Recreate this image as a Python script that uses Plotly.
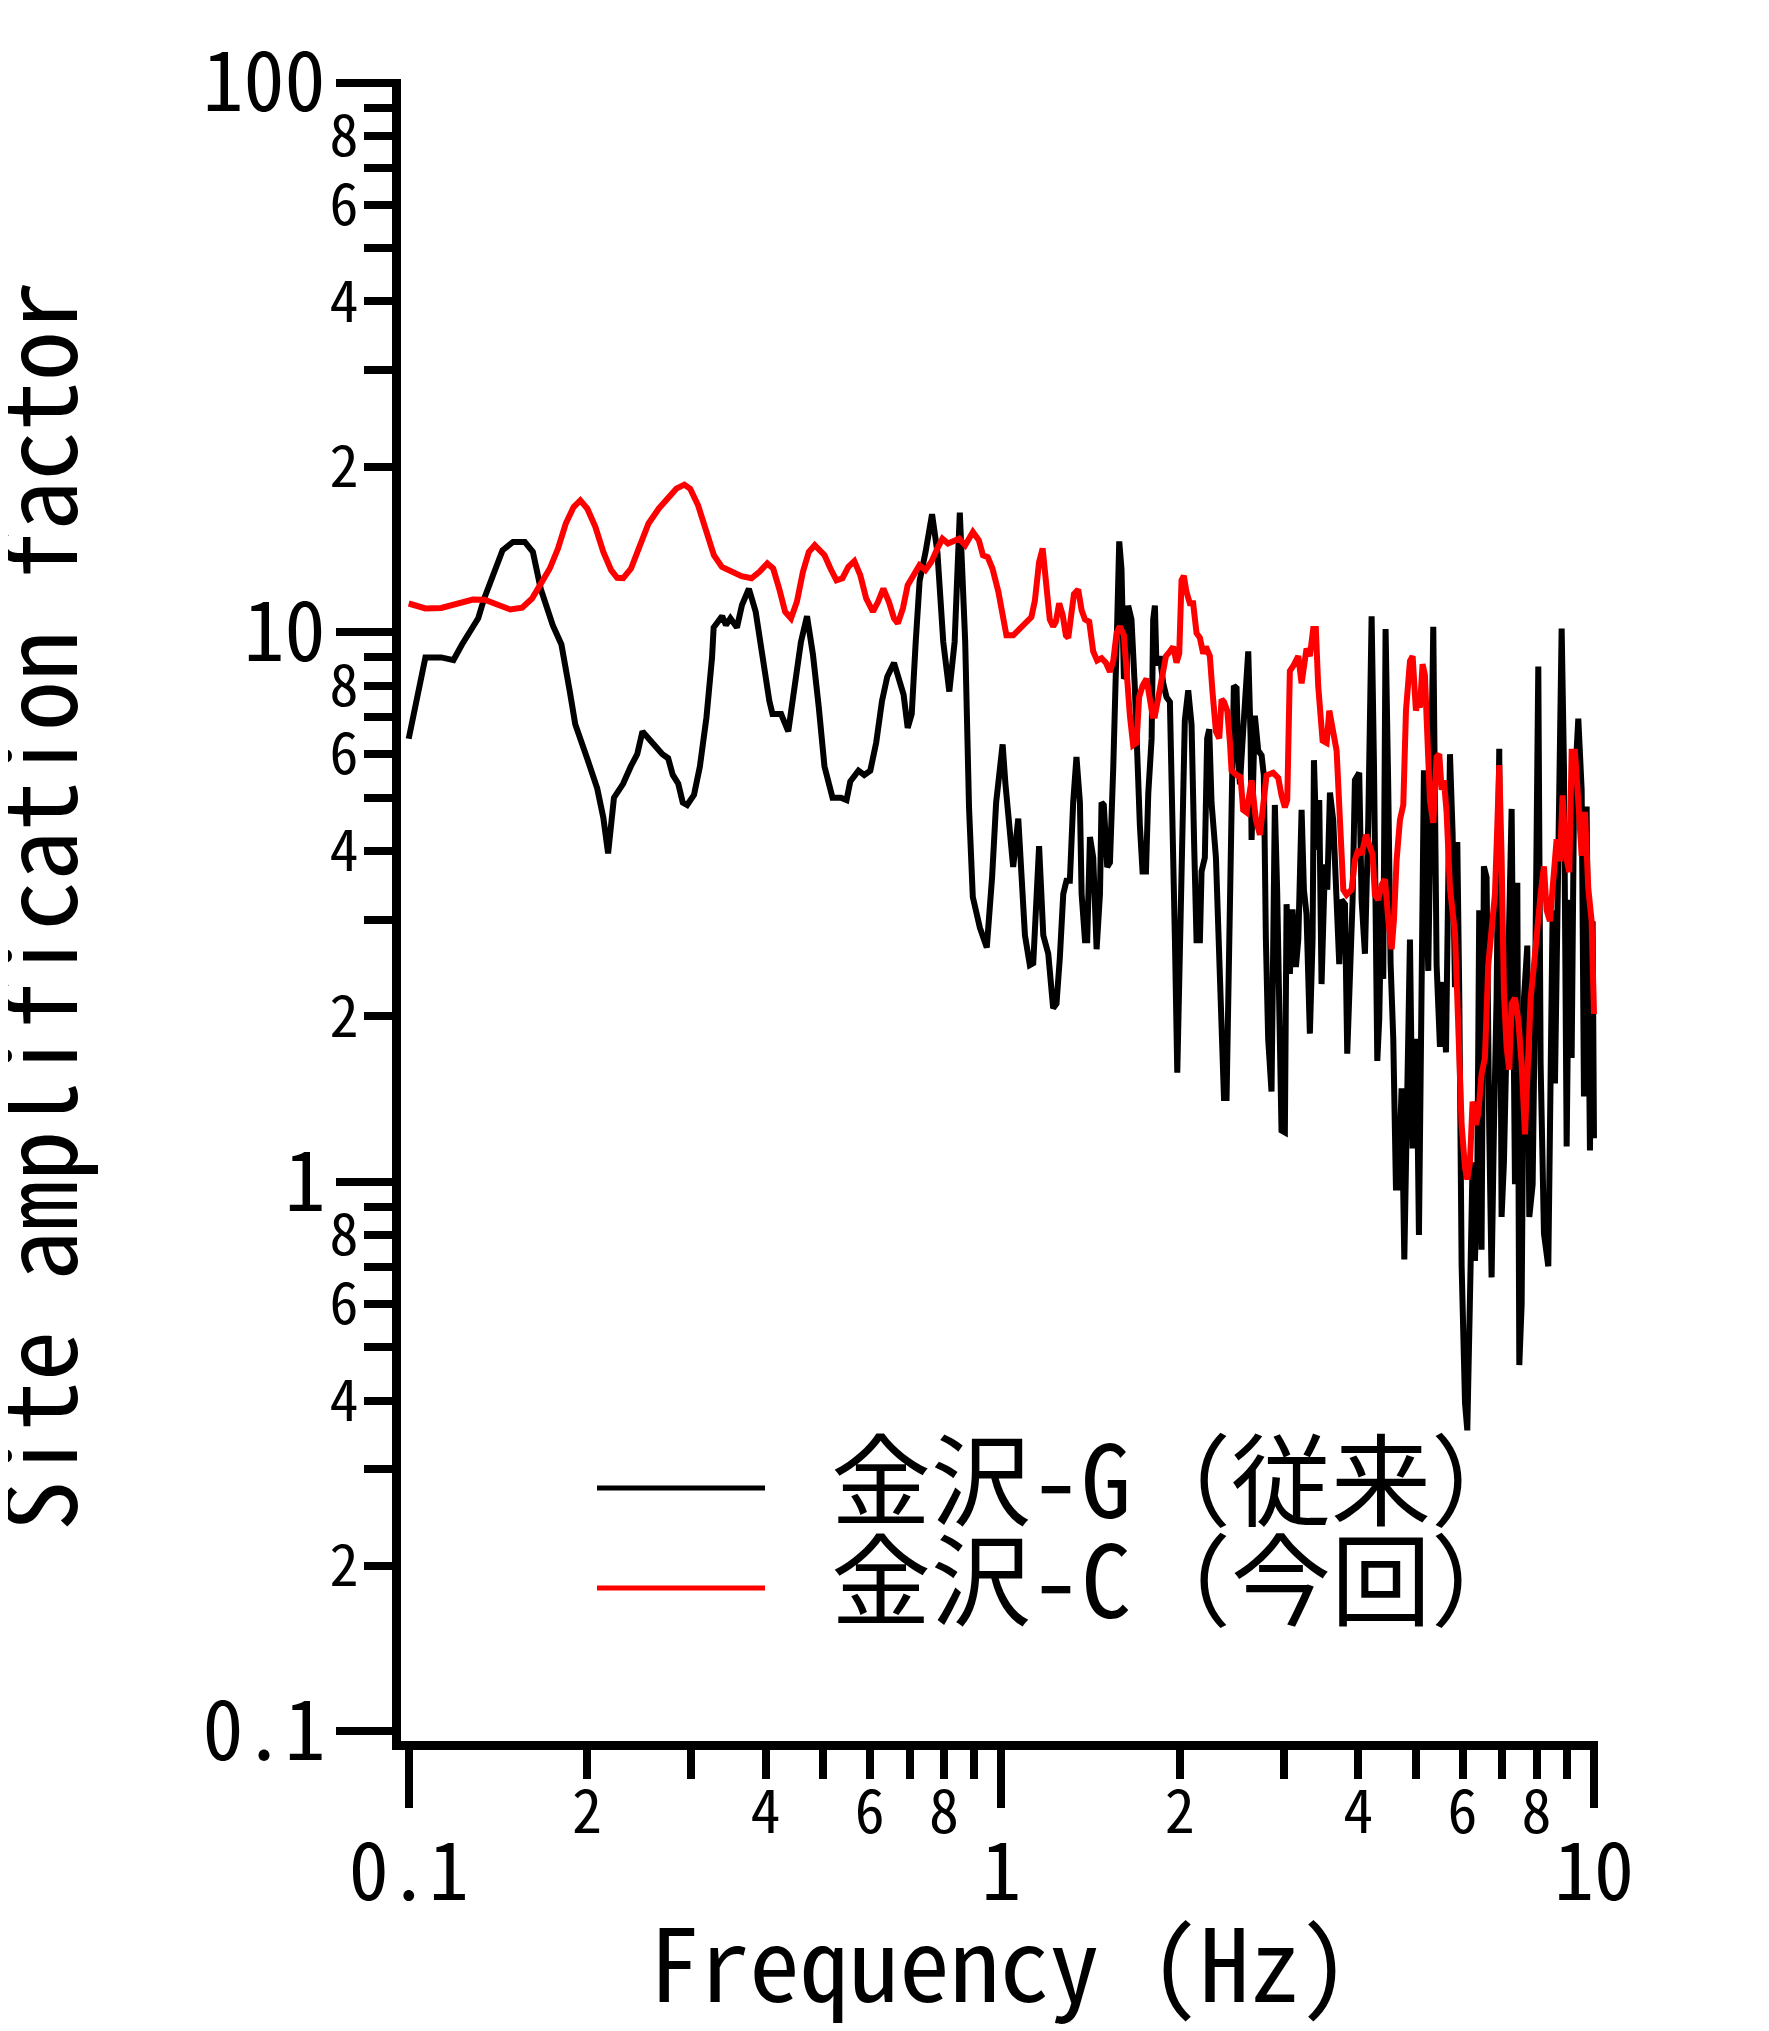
import plotly.graph_objects as go

# ---------------- data ----------------
freq_G = [0.100, 0.1067, 0.1135, 0.119, 0.123, 0.131, 0.134, 0.140, 0.144, 0.150, 0.157, 0.162, 0.167, 0.175,
          0.181, 0.187, 0.191, 0.200, 0.208, 0.213, 0.217, 0.222, 0.230, 0.237, 0.243, 0.248, 0.254, 0.260,
          0.268, 0.274, 0.279, 0.285, 0.290, 0.295, 0.303, 0.310, 0.318, 0.325, 0.327, 0.338, 0.343, 0.349,
          0.358, 0.365, 0.375, 0.385, 0.394, 0.406, 0.411, 0.425, 0.437, 0.448, 0.459, 0.470, 0.481, 0.492,
          0.497, 0.503, 0.519, 0.536, 0.548, 0.556, 0.574, 0.587, 0.601, 0.615, 0.629, 0.642, 0.659, 0.674,
          0.684, 0.695, 0.706, 0.717, 0.728, 0.745, 0.764, 0.780, 0.798, 0.817, 0.834, 0.851, 0.869, 0.882,
          0.895, 0.92, 0.945, 0.965, 0.98, 1.005, 1.016, 1.047, 1.068, 1.096, 1.117, 1.132, 1.158, 1.177,
          1.200, 1.223, 1.239, 1.255, 1.272, 1.288, 1.305, 1.322, 1.339, 1.357, 1.366, 1.384, 1.396, 1.411,
          1.429, 1.448, 1.467, 1.476, 1.489, 1.509, 1.525, 1.545, 1.561, 1.569, 1.581, 1.595, 1.610, 1.627,
          1.637, 1.658, 1.680, 1.691, 1.713, 1.731, 1.754, 1.770, 1.793, 1.804, 1.816, 1.827, 1.851, 1.876,
          1.900, 1.925, 1.945, 1.963, 1.981, 2.001, 2.022, 2.040, 2.067, 2.094, 2.116, 2.135, 2.163, 2.177,
          2.205, 2.225, 2.243, 2.263, 2.302, 2.323, 2.353, 2.375, 2.399, 2.424, 2.446, 2.468, 2.494, 2.510,
          2.527, 2.560, 2.610, 2.634, 2.644, 2.678, 2.713, 2.749, 2.773, 2.795, 2.820, 2.857, 2.875, 2.894,
          2.920, 2.943, 2.970, 3.009, 3.029, 3.068, 3.100, 3.141, 3.170, 3.211, 3.240, 3.273, 3.316, 3.351,
          3.369, 3.404, 3.439, 3.470, 3.516, 3.548, 3.585, 3.631, 3.679, 3.717, 3.751, 3.800, 3.834, 3.874,
          3.915, 3.950, 4.017, 4.054, 4.107, 4.161, 4.215, 4.254, 4.309, 4.342, 4.382, 4.410, 4.450, 4.497,
          4.538, 4.585, 4.633, 4.675, 4.736, 4.786, 4.829, 4.892, 4.943, 5.020, 5.066, 5.119, 5.165, 5.253,
          5.356, 5.426, 5.497, 5.569, 5.627, 5.715, 5.774, 5.827, 5.880, 5.926, 5.980, 6.059, 6.113, 6.192,
          6.240, 6.297, 6.354, 6.403, 6.461, 6.520, 6.588, 6.657, 6.718, 6.779, 6.850, 6.921, 6.984, 7.048,
          7.140, 7.262, 7.357, 7.424, 7.482, 7.550, 7.619, 7.718, 7.778, 7.880, 7.952, 8.055, 8.128, 8.234,
          8.374, 8.451, 8.516, 8.594, 8.673, 8.820, 8.900, 8.993, 9.086, 9.169, 9.253, 9.409, 9.533, 9.619,
          9.719, 9.845, 9.948, 10.0]
amp_G = [6.4, 9.0, 9.0, 8.9, 9.5, 10.6, 11.5, 13.1, 14.1, 14.6, 14.6, 14.0, 12.0, 10.3,
         9.5, 7.8, 6.8, 5.9, 5.2, 4.6, 3.96, 5.0, 5.3, 5.7, 6.0, 6.6, 6.4, 6.2,
         6.0, 5.9, 5.5, 5.3, 4.9, 4.85, 5.06, 5.7, 7.0, 9.0, 10.2, 10.7, 10.3, 10.6,
         10.2, 11.2, 12.0, 10.9, 9.2, 7.5, 7.1, 7.1, 6.6, 8.0, 9.6, 10.7, 9.1, 7.3,
         6.4, 5.7, 5.0, 5.0, 4.95, 5.35, 5.6, 5.5, 5.6, 6.3, 7.5, 8.3, 8.8, 8.1,
         7.7, 6.7, 7.1, 9.6, 12.4, 14.0, 16.4, 14.0, 9.6, 7.8, 9.6, 16.5, 9.6, 4.8,
         3.3, 2.9, 2.67, 3.6, 4.9, 6.25, 5.3, 3.74, 4.58, 2.81, 2.48, 2.50, 4.08, 2.81,
         2.60, 2.07, 2.11, 2.55, 3.34, 3.53, 3.53, 4.90, 5.93, 4.90, 3.34, 2.75, 2.75, 4.24,
         3.89, 2.65, 3.34, 4.90, 4.85, 3.74, 3.81, 5.71, 7.91, 10.55, 14.63, 13.03, 8.23, 8.38,
         11.18, 10.55, 7.91, 6.17, 4.45, 3.67, 3.67, 5.09, 6.41, 10.55, 11.18, 8.71, 9.05, 8.07,
         7.62, 7.47, 4.90, 2.75, 1.58, 2.75, 5.50, 6.92, 7.84, 6.79, 4.04, 2.75, 2.75, 3.67,
         3.89, 6.41, 6.66, 4.90, 3.89, 2.97, 2.07, 1.42, 1.42, 3.34, 4.72, 7.99, 7.91, 5.93,
         5.29, 6.66, 9.23, 6.41, 4.19, 7.05, 6.09, 5.97, 5.49, 2.76, 1.82, 1.46, 2.24, 4.85,
         3.40, 1.82, 1.24, 1.23, 3.20, 2.39, 3.13, 2.46, 2.76, 4.75, 3.40, 3.07, 1.86, 2.76,
         5.85, 4.02, 4.95, 2.29, 3.78, 3.40, 5.11, 4.55, 3.40, 2.49, 3.26, 3.20, 1.71, 2.24,
         3.26, 5.38, 5.55, 3.26, 2.60, 4.55, 10.69, 5.72, 1.66, 1.98, 3.40, 2.34, 10.14, 5.16,
         2.49, 1.82, 0.976, 0.976, 1.48, 0.722, 1.48, 2.76, 1.15, 1.82, 0.80, 1.82, 5.61, 2.42,
         10.23, 2.48, 1.76, 2.31, 1.72, 6.00, 4.30, 2.26, 4.15, 2.16, 0.702, 0.396, 0.353, 0.702,
         1.085, 0.718, 0.99, 3.12, 0.752, 3.75, 3.58, 1.245, 0.670, 1.245, 2.16, 6.14, 0.863, 1.085,
         2.21, 4.77, 0.99, 3.50, 0.464, 0.598, 2.16, 2.69, 0.863, 0.99, 2.16, 8.66, 1.64, 0.805,
         0.702, 1.84, 3.12, 1.51, 3.42, 10.16, 5.66, 1.16, 3.26, 1.68, 4.93, 6.96, 5.17, 1.43,
         4.82, 1.14, 2.98, 1.2]

freq_C = [0.100, 0.1067, 0.1135, 0.1189, 0.1225, 0.1283, 0.1343, 0.1406, 0.1484, 0.1554, 0.1615, 0.1678,
          0.1730, 0.1786, 0.1841, 0.1898, 0.1948, 0.2002, 0.2065, 0.2130, 0.2196, 0.2248, 0.2301, 0.2372,
          0.2445, 0.2539, 0.2641, 0.2744, 0.2829, 0.2918, 0.2985, 0.3078, 0.3175, 0.3273, 0.3377, 0.3508,
          0.3644, 0.3788, 0.3907, 0.4028, 0.4121, 0.4218, 0.4317, 0.4417, 0.4519, 0.4626, 0.4733, 0.4843,
          0.5031, 0.5148, 0.5270, 0.5394, 0.5519, 0.5649, 0.5781, 0.5915, 0.6072, 0.6194, 0.6323, 0.6460,
          0.6590, 0.6690, 0.6822, 0.6950, 0.7110, 0.7275, 0.7446, 0.7620, 0.7798, 0.7955, 0.8128, 0.8335,
          0.8492, 0.8690, 0.8954, 0.9164, 0.9311, 0.9484, 0.9661, 0.9885, 1.004, 1.020, 1.047, 1.075,
          1.096, 1.124, 1.139, 1.158, 1.174, 1.192, 1.207, 1.223, 1.236, 1.252, 1.269, 1.285, 1.297,
          1.309, 1.326, 1.348, 1.366, 1.384, 1.407, 1.429, 1.451, 1.476, 1.501, 1.525, 1.545, 1.565,
          1.585, 1.610, 1.627, 1.648, 1.669, 1.691, 1.708, 1.731, 1.758, 1.781, 1.800, 1.816, 1.847,
          1.876, 1.896, 1.925, 1.950, 1.975, 1.996, 2.014, 2.032, 2.053, 2.080, 2.107, 2.135, 2.163,
          2.191, 2.214, 2.248, 2.272, 2.302, 2.332, 2.353, 2.375, 2.406, 2.431, 2.446, 2.494, 2.533,
          2.559, 2.593, 2.644, 2.689, 2.731, 2.766, 2.802, 2.875, 2.933, 2.970, 3.009, 3.037, 3.068,
          3.108, 3.170, 3.211, 3.240, 3.273, 3.316, 3.359, 3.394, 3.425, 3.484, 3.539, 3.576, 3.622,
          3.679, 3.727, 3.776, 3.825, 3.900, 3.950, 4.001, 4.054, 4.123, 4.177, 4.231, 4.269, 4.325,
          4.382, 4.440, 4.497, 4.556, 4.597, 4.645, 4.705, 4.767, 4.817, 4.892, 4.943, 5.007, 5.052,
          5.085, 5.138, 5.185, 5.220, 5.288, 5.356, 5.426, 5.482, 5.533, 5.582, 5.640, 5.715, 5.774,
          5.827, 5.880, 5.926, 5.980, 6.059, 6.113, 6.176, 6.240, 6.321, 6.378, 6.461, 6.546, 6.632,
          6.718, 6.806, 6.867, 6.921, 6.984, 7.048, 7.121, 7.195, 7.262, 7.357, 7.453, 7.550, 7.649,
          7.718, 7.820, 7.921, 8.025, 8.128, 8.234, 8.320, 8.427, 8.537, 8.650, 8.762, 8.853, 8.968,
          9.086, 9.169, 9.288, 9.409, 9.533, 9.656, 9.781, 9.910, 10.0]
amp_C = [11.28, 11.05, 11.07, 11.20, 11.33, 11.47, 11.46, 11.23, 11.00, 11.08, 11.52, 12.35,
         13.06, 14.20, 15.77, 16.90, 17.38, 16.78, 15.55, 14.00, 12.97, 12.56, 12.54, 13.06,
         14.20, 15.77, 16.78, 17.62, 18.25, 18.56, 18.25, 17.02, 15.33, 13.81, 13.15, 12.91,
         12.65, 12.54, 12.88, 13.34, 13.06, 12.01, 10.90, 10.60, 11.36, 12.88, 14.00, 14.40,
         13.81, 13.06, 12.43, 12.54, 13.15, 13.47, 12.70, 11.52, 10.90, 11.36, 12.01, 11.36,
         10.60, 10.38, 11.05, 12.18, 12.77, 13.24, 12.97, 13.43, 14.20, 14.80, 14.50, 14.65,
         14.80, 14.40, 15.22, 14.70, 13.81, 13.70, 13.06, 11.85, 10.60, 9.87, 9.87, 10.16,
         10.35, 10.66, 11.40, 13.42, 14.21, 12.31, 10.55, 10.25, 10.45, 11.29, 10.76, 9.87, 9.77,
         10.55, 11.73, 11.96, 10.97, 10.55, 10.45, 9.23, 8.88, 8.97, 8.80, 8.47, 8.88, 9.96,
         10.25, 9.87, 8.38, 7.05, 6.23, 6.29, 7.62, 7.99, 8.23, 7.62, 7.05, 7.05, 7.77,
         8.38, 9.05, 9.23, 9.41, 8.80, 9.14, 12.43, 12.67, 11.84, 11.29, 11.29, 9.96, 9.77,
         9.14, 9.41, 9.05, 7.77, 6.60, 6.41, 7.55, 7.47, 7.19, 6.29, 5.60, 5.50, 5.45,
         4.75, 4.70, 5.38, 4.55, 4.28, 4.75, 5.49, 5.55, 5.43, 5.05, 4.80, 4.95, 8.50,
         8.68, 9.05, 8.07, 8.86, 9.34, 9.05, 10.14, 10.14, 7.99, 6.35, 6.29, 7.20, 6.62,
         6.09, 4.55, 3.40, 3.33, 3.40, 3.85, 4.02, 3.94, 4.28, 4.10, 3.94, 3.33, 3.26,
         3.47, 3.55, 3.00, 2.65, 3.00, 3.85, 4.55, 4.85, 7.20, 8.86, 9.05, 7.20, 7.50,
         7.29, 8.75, 8.36, 6.96, 4.93, 4.50, 5.93, 6.00, 5.17, 5.38, 4.71, 3.42, 2.98,
         2.84, 2.16, 1.64, 1.27, 1.06, 1.01, 1.085, 1.40, 1.27, 1.33, 1.57, 1.68, 2.48,
         2.98, 3.34, 4.40, 5.73, 3.92, 2.21, 1.76, 1.60, 2.11, 2.16, 1.97, 1.64, 1.22,
         1.57, 2.16, 2.48, 2.98, 3.34, 3.75, 3.12, 2.98, 3.50, 4.20, 3.83, 5.05, 3.92,
         3.66, 6.06, 6.06, 4.93, 3.92, 4.71, 3.42, 2.98, 2.02]

series_names = ["金沢-G（従来）", "金沢-C（今回）"]
series_colors = ["#000000", "#ff0000"]

x_major_vals = [0.1, 1, 10]
x_major_text = ["0.1", "1", "10"]
x_minor_vals = [0.2, 0.3, 0.4, 0.5, 0.6, 0.7, 0.8, 0.9, 2, 3, 4, 5, 6, 7, 8, 9]
x_minor_text = ["2", "", "4", "", "6", "", "8", "", "2", "", "4", "", "6", "", "8", ""]
y_major_vals = [0.1, 1, 10, 100]
y_major_text = ["0.1", "1", "10", "100"]
y_minor_vals = [0.2, 0.3, 0.4, 0.5, 0.6, 0.7, 0.8, 0.9, 2, 3, 4, 5, 6, 7, 8, 9,
                20, 30, 40, 50, 60, 70, 80, 90]
y_minor_text = ["2", "", "4", "", "6", "", "8", ""] * 3

x_title = "Frequency (Hz)"
y_title = "Site amplification factor"

# ---------------- figure ----------------
FONT = "Noto Sans Mono CJK JP, Noto Sans CJK JP, DejaVu Sans Mono, monospace"
OFF = 8                       # default page (body) margin of the html page
W, H = 1769 - OFF, 2031 - OFF
ML, MR, MT, MB = 401 - OFF, 171, 79 - OFF, 290
XR = [-1.013, 1.0068]
YR = [-1.0175, 2.0067]
LW_AX = 9
TW = 8

fig = go.Figure()
fig.add_trace(go.Scatter(x=freq_G, y=amp_G, mode="lines", name=series_names[0],
                         line=dict(color=series_colors[0], width=6), showlegend=False))
fig.add_trace(go.Scatter(x=freq_C, y=amp_C, mode="lines", name=series_names[1],
                         line=dict(color=series_colors[1], width=6), showlegend=False))
# empty carriers so that the overlaid minor-tick axes are drawn
fig.add_trace(go.Scatter(x=[], y=[], xaxis="x2", yaxis="y", showlegend=False, hoverinfo="skip"))
fig.add_trace(go.Scatter(x=[], y=[], xaxis="x", yaxis="y2", showlegend=False, hoverinfo="skip"))

axis_common = dict(type="log", showgrid=False, zeroline=False, showline=True,
                   linecolor="black", ticks="outside", tickcolor="black",
                   tickmode="array", automargin=False, mirror=False)

fig.update_layout(
    width=W, height=H,
    margin=dict(l=ML, r=MR, t=MT, b=MB, pad=0),
    paper_bgcolor="white", plot_bgcolor="white",
    font=dict(family=FONT, color="black"),
    showlegend=False,
    xaxis=dict(**axis_common, range=XR, linewidth=LW_AX, ticklen=58, tickwidth=TW,
               tickvals=x_major_vals, ticktext=x_major_text,
               tickfont=dict(size=80, family=FONT, color="black"),
               ticklabelstandoff=-4,
               title=dict(text=x_title, font=dict(size=100, family=FONT, color="black"),
                          standoff=93)),
    xaxis2=dict(**axis_common, range=XR, overlaying="x", anchor="y", side="bottom",
                linewidth=LW_AX, ticklen=29, tickwidth=TW,
                tickvals=x_minor_vals, ticktext=x_minor_text,
                tickfont=dict(size=60, family=FONT, color="black"),
                ticklabelstandoff=-18),
    yaxis=dict(**axis_common, range=YR, linewidth=LW_AX, ticklen=56, tickwidth=TW,
               tickvals=y_major_vals, ticktext=y_major_text,
               tickfont=dict(size=82, family=FONT, color="black"),
               ticklabelstandoff=-6),
    yaxis2=dict(**axis_common, range=YR, overlaying="y", anchor="x", side="left",
                linewidth=LW_AX, ticklen=28, tickwidth=TW,
                tickvals=y_minor_vals, ticktext=y_minor_text,
                tickfont=dict(size=58, family=FONT, color="black"),
                ticklabelstandoff=-6),
)

# ---------------- helpers: page pixel -> paper fraction ----------------
PW = W - ML - MR
PH = H - MT - MB
def px_x(p):
    return (p - OFF - ML) / PW
def px_y(p):
    return (H - MB - (p - OFF)) / PH

# y-axis title (placed close to the page edge as in the original)
fig.add_annotation(xref="paper", yref="paper", x=px_x(33), y=px_y(906),
                   xanchor="center", yanchor="middle", showarrow=False,
                   textangle=-90, text=y_title,
                   font=dict(size=100, family=FONT, color="black"))

# ---------------- legend (drawn manually, in-plot, no frame) ----------------
legend_rows_y = [1488, 1588]
for name, color, ly in zip(series_names, series_colors, legend_rows_y):
    fig.add_shape(type="line", xref="paper", yref="paper",
                  x0=px_x(597), x1=px_x(765), y0=px_y(ly), y1=px_y(ly),
                  line=dict(color=color, width=5))
    fig.add_annotation(xref="paper", yref="paper", x=px_x(829), y=px_y(ly - 14),
                       xanchor="left", yanchor="middle", showarrow=False,
                       text=name, font=dict(size=100, family=FONT, color="black"))

fig.write_html("out.html")
